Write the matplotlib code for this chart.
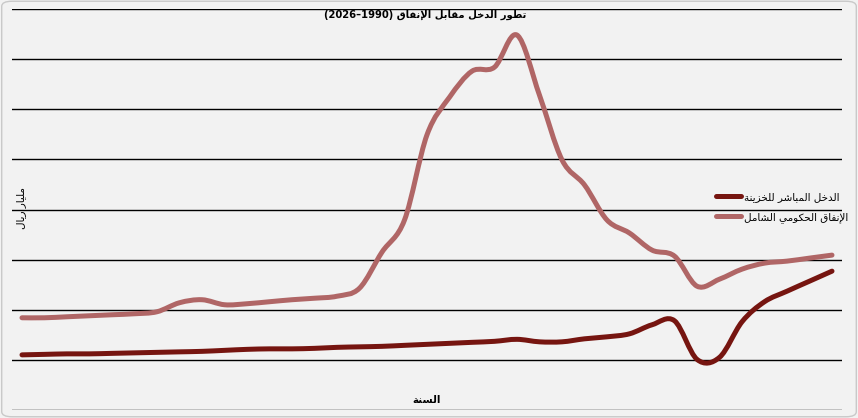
import matplotlib
matplotlib.use("Agg")
import matplotlib.pyplot as plt
from matplotlib.patches import FancyBboxPatch, PathPatch
from matplotlib.path import Path
from matplotlib.lines import Line2D

# ---------------- data ----------------
years = list(range(1990, 2027))
income = [110, 111, 112, 112, 113, 114, 115, 116, 117, 119, 121, 122, 122, 123, 125,
          126, 127, 129, 131, 133, 135, 137, 141, 136, 136, 142, 146, 152, 170, 178,
          101, 105, 176, 216, 237, 257, 277]
spending = [184, 184, 186, 188, 190, 192, 196, 214, 220, 210, 212, 216, 220, 223, 227,
            243, 315, 379, 549, 624, 676, 684, 748, 628, 499, 449, 379, 353, 319, 307,
            247, 261, 281, 293, 297, 303, 309]

title_ar = "تطور الدخل مقابل الإنفاق"
title_years = "(2026–1990)"
ylabel_ar = "مليار ريال"
xlabel_ar = "السنة"
income_label = "الدخل المباشر للخزينة"
spending_label = "الإنفاق الحكومي الشامل"

# ------------- minimal Arabic shaping -------------
FORMS = {  # isolated, final, initial, medial
    'ا': (0xFE8D, 0xFE8E, None, None), 'إ': (0xFE87, 0xFE88, None, None),
    'ب': (0xFE8F, 0xFE90, 0xFE91, 0xFE92), 'ة': (0xFE93, 0xFE94, None, None),
    'ت': (0xFE95, 0xFE96, 0xFE97, 0xFE98), 'ح': (0xFEA1, 0xFEA2, 0xFEA3, 0xFEA4),
    'خ': (0xFEA5, 0xFEA6, 0xFEA7, 0xFEA8), 'د': (0xFEA9, 0xFEAA, None, None),
    'ر': (0xFEAD, 0xFEAE, None, None), 'ز': (0xFEAF, 0xFEB0, None, None),
    'س': (0xFEB1, 0xFEB2, 0xFEB3, 0xFEB4), 'ش': (0xFEB5, 0xFEB6, 0xFEB7, 0xFEB8),
    'ط': (0xFEC1, 0xFEC2, 0xFEC3, 0xFEC4), 'ف': (0xFED1, 0xFED2, 0xFED3, 0xFED4),
    'ق': (0xFED5, 0xFED6, 0xFED7, 0xFED8), 'ك': (0xFED9, 0xFEDA, 0xFEDB, 0xFEDC),
    'ل': (0xFEDD, 0xFEDE, 0xFEDF, 0xFEE0), 'م': (0xFEE1, 0xFEE2, 0xFEE3, 0xFEE4),
    'ن': (0xFEE5, 0xFEE6, 0xFEE7, 0xFEE8), 'و': (0xFEED, 0xFEEE, None, None),
    'ي': (0xFEF1, 0xFEF2, 0xFEF3, 0xFEF4),
}
LAMALEF = {'ا': (0xFEFB, 0xFEFC), 'إ': (0xFEF9, 0xFEFA)}


def dual(c):
    return c in FORMS and FORMS[c][2] is not None


def shape(text):
    chars = []
    i = 0
    while i < len(text):
        c = text[i]
        if c == 'ل' and i + 1 < len(text) and text[i + 1] in LAMALEF:
            chars.append(('LA', text[i + 1]))
            i += 2
        else:
            chars.append(c)
            i += 1
    out = []
    for k, c in enumerate(chars):
        prev = chars[k - 1] if k > 0 else None
        nxt = chars[k + 1] if k + 1 < len(chars) else None
        prev_joins = isinstance(prev, str) and dual(prev)
        if isinstance(c, tuple):
            iso, fin = LAMALEF[c[1]]
            out.append(chr(fin if prev_joins else iso))
            continue
        if c not in FORMS:
            out.append(c)
            continue
        joinable_next = nxt is not None and (isinstance(nxt, tuple) or nxt in FORMS)
        next_joins = dual(c) and joinable_next
        iso, fin, ini, med = FORMS[c]
        if prev_joins and next_joins:
            out.append(chr(med))
        elif prev_joins:
            out.append(chr(fin))
        elif next_joins:
            out.append(chr(ini))
        else:
            out.append(chr(iso))
    return ''.join(out)[::-1]


def smooth_path(xs, ys, t=0.5):
    """Cubic Bezier path through the data points (Catmull-Rom style tangents)."""
    n = len(xs)
    verts = [(xs[0], ys[0])]
    codes = [Path.MOVETO]
    for i in range(n - 1):
        x0, y0 = xs[max(i - 1, 0)], ys[max(i - 1, 0)]
        x1, y1 = xs[i], ys[i]
        x2, y2 = xs[i + 1], ys[i + 1]
        x3, y3 = xs[min(i + 2, n - 1)], ys[min(i + 2, n - 1)]
        c1 = (x1 + (x2 - x0) * t / 3, y1 + (y2 - y0) * t / 3)
        c2 = (x2 - (x3 - x1) * t / 3, y2 - (y3 - y1) * t / 3)
        verts += [c1, c2, (x2, y2)]
        codes += [Path.CURVE4] * 3
    return Path(verts, codes)


# ---------------- figure ----------------
W, H = 858, 418
fig = plt.figure(figsize=(W / 100, H / 100), dpi=100)
fig.patch.set_facecolor('#f2f2f2')
fig.patches.append(FancyBboxPatch((0.002, 0.003), 0.996, 0.994, boxstyle="round,pad=0,rounding_size=0.012",
                                  transform=fig.transFigure, facecolor='none', edgecolor='#c9c9c9', lw=1.0))

ax = fig.add_axes([12 / W, (H - 410) / H, (842 - 12) / W, (410 - 9) / H])
ax.set_facecolor('#f2f2f2')
for s in ax.spines.values():
    s.set_visible(False)
ax.set_xlim(1990 - 10 / 22.5, 2026 + 10 / 22.5)
ax.set_ylim(0, 800)
ax.set_yticks(range(0, 801, 100))
ax.set_xticks([])
ax.tick_params(left=False, labelleft=False)
ax.grid(axis='y', color='black', lw=1.0)
ax.set_axisbelow(True)

c_inc, c_sp = '#761510', '#b06666'
lw = 3.6
for ys, col in ((income, c_inc), (spending, c_sp)):
    p = PathPatch(smooth_path(years, ys), facecolor='none', edgecolor=col, lw=lw,
                  capstyle='round', joinstyle='round', zorder=3)
    ax.add_patch(p)

h1 = Line2D([], [], color=c_inc, lw=lw, solid_capstyle='round')
h2 = Line2D([], [], color=c_sp, lw=lw, solid_capstyle='round')

fig.text(425 / W, 1 - 15 / H, title_years + " " + shape(title_ar), ha='center', va='center',
         fontsize=7.2, fontweight='bold', family='DejaVu Sans')
fig.text(21 / W, 1 - 208 / H, shape(ylabel_ar), ha='center', va='center', rotation=90,
         fontsize=7.5, family='DejaVu Sans')
fig.text(427 / W, 1 - 400 / H, shape(xlabel_ar), ha='center', va='center',
         fontsize=7.5, fontweight='bold', family='DejaVu Sans')

fig.legend(handles=[h1, h2], labels=[shape(income_label), shape(spending_label)],
           loc='center left', bbox_to_anchor=(716 / W, 1 - 207.5 / H),
           frameon=False, fontsize=7.5, handlelength=2.4, handletextpad=0.3,
           labelspacing=0.95, borderaxespad=0, borderpad=0)

fig.savefig('out.png', dpi=100, facecolor=fig.get_facecolor())
